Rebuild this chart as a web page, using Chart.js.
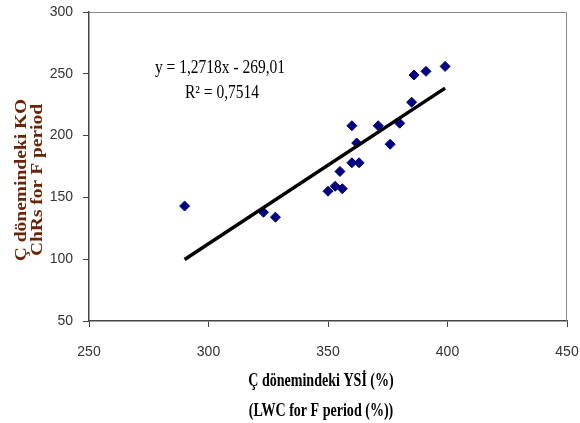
<!DOCTYPE html>
<html>
<head>
<meta charset="utf-8">
<script src="https://cdn.jsdelivr.net/npm/chart.js@4.4.1/dist/chart.umd.min.js"></script>
<style>
  html, body { margin: 0; padding: 0; background: #fff; }
  #wrap { width: 580px; height: 423px; position: relative; }
</style>
</head>
<body>
<div id="wrap"><canvas id="scatter_chart"></canvas></div>
<script>
// values
var lwcValues = [290, 323, 328, 350, 353, 356, 355, 360, 362, 360, 363, 371, 376, 380, 385, 386, 391, 399];
var chrValues = [143, 138, 134, 155, 159, 157, 171, 208, 194, 178, 178, 208, 193, 210, 227, 249, 252, 256];
var xTicks = [250, 300, 350, 400, 450];
var yTicks = [50, 100, 150, 200, 250, 300];
var trendSlope = 1.2718;
var trendIntercept = -269.01;
var equationLines = ["y = 1,2718x - 269,01", "R\u00B2 = 0,7514"];
var xTitleLines = ["\u00C7 d\u00F6nemindeki YS\u0130 (%)", "(LWC for F period (%))"];
var yTitleLines = ["\u00C7 d\u00F6nemindeki KO", "ChRs for F period"];

var points = lwcValues.map(function (x, i) { return { x: x, y: chrValues[i] }; });
var xMin = Math.min.apply(null, lwcValues), xMax = Math.max.apply(null, lwcValues);
var trend = [xMin, xMax].map(function (x) { return { x: x, y: trendSlope * x + trendIntercept }; });

// draws text squeezed horizontally, like the original picture
function squeezed(ctx, text, x, y, sx) {
  ctx.save();
  ctx.translate(x, y);
  ctx.scale(sx, 1);
  ctx.fillText(text, 0, 0);
  ctx.restore();
}

function vertical(ctx, text, x, y) {
  ctx.save();
  ctx.translate(x, y);
  ctx.rotate(-Math.PI / 2);
  ctx.scale(1, 0.85);
  ctx.fillText(text, 0, 0);
  ctx.restore();
}

var textPlugin = {
  id: 'textPlugin',
  afterDraw: function (chart) {
    var ctx = chart.ctx, a = chart.chartArea;
    ctx.save();
    // frame around plot area
    ctx.strokeStyle = '#8a8a8a';
    ctx.lineWidth = 1;
    ctx.beginPath();
    ctx.moveTo(a.left, a.top + 0.5);
    ctx.lineTo(a.right - 0.5, a.top + 0.5);
    ctx.lineTo(a.right - 0.5, a.bottom);
    ctx.stroke();

    ctx.textAlign = 'center';
    ctx.textBaseline = 'middle';

    // regression text
    ctx.fillStyle = '#000';
    ctx.font = '18px "Liberation Serif", "Times New Roman", serif';
    squeezed(ctx, equationLines[0], 220, 68, 0.86);
    squeezed(ctx, equationLines[1], 222, 93, 0.86);

    // x title
    ctx.font = 'bold 18px "Liberation Serif", "Times New Roman", serif';
    squeezed(ctx, xTitleLines[0], 321, 381, 0.78);
    squeezed(ctx, xTitleLines[1], 321, 411, 0.78);

    // y title
    ctx.fillStyle = '#6b2406';
    ctx.font = 'bold 19.5px "Liberation Serif", "Times New Roman", serif';
    vertical(ctx, yTitleLines[0], 22, 180);
    vertical(ctx, yTitleLines[1], 38, 180);
    ctx.restore();
  }
};

var tickFont = { family: '"Liberation Sans Narrow", "Liberation Sans", Arial, sans-serif', size: 14 };

function noPad(s) {
  s.paddingLeft = 0; s.paddingRight = 0; s.paddingTop = 0; s.paddingBottom = 0;
}

new Chart(document.getElementById("scatter_chart"), {
  type: 'scatter',
  data: {
    datasets: [
      {
        type: 'line',
        label: 'trend',
        data: trend,
        borderColor: '#000',
        borderWidth: 3.5,
        pointRadius: 0,
        fill: false
      },
      {
        label: 'KO ChRs',
        data: points,
        backgroundColor: '#000080',
        borderColor: '#000080',
        pointStyle: 'rectRot',
        pointRadius: 5,
        pointHoverRadius: 5
      }
    ]
  },
  options: {
    responsive: true,
    maintainAspectRatio: false,
    animation: false,
    layout: { padding: { left: 0, top: 12, right: 13, bottom: 0 } },
    plugins: {
      legend: { display: false },
      tooltip: { enabled: false }
    },
    scales: {
      x: {
        type: 'linear',
        min: xTicks[0],
        max: xTicks[xTicks.length - 1],
        afterBuildTicks: function (s) { s.ticks = xTicks.map(function (v) { return { value: v }; }); },
        afterFit: function (s) { s.height = 102; noPad(s); },
        grid: { drawOnChartArea: false, drawTicks: true, tickLength: 6, color: '#444', lineWidth: 1 },
        border: { display: true, color: '#444', width: 1.5 },
        ticks: { color: '#333', font: tickFont, padding: 17, maxRotation: 0 }
      },
      y: {
        type: 'linear',
        min: yTicks[0],
        max: yTicks[yTicks.length - 1],
        afterBuildTicks: function (s) { s.ticks = yTicks.map(function (v) { return { value: v }; }); },
        afterFit: function (s) { s.width = 89; noPad(s); },
        grid: { drawOnChartArea: false, drawTicks: true, tickLength: 6, color: '#444', lineWidth: 1 },
        border: { display: true, color: '#444', width: 1.5 },
        ticks: { color: '#333', font: tickFont, padding: 10 }
      }
    }
  },
  plugins: [textPlugin]
});
</script>
</body>
</html>
